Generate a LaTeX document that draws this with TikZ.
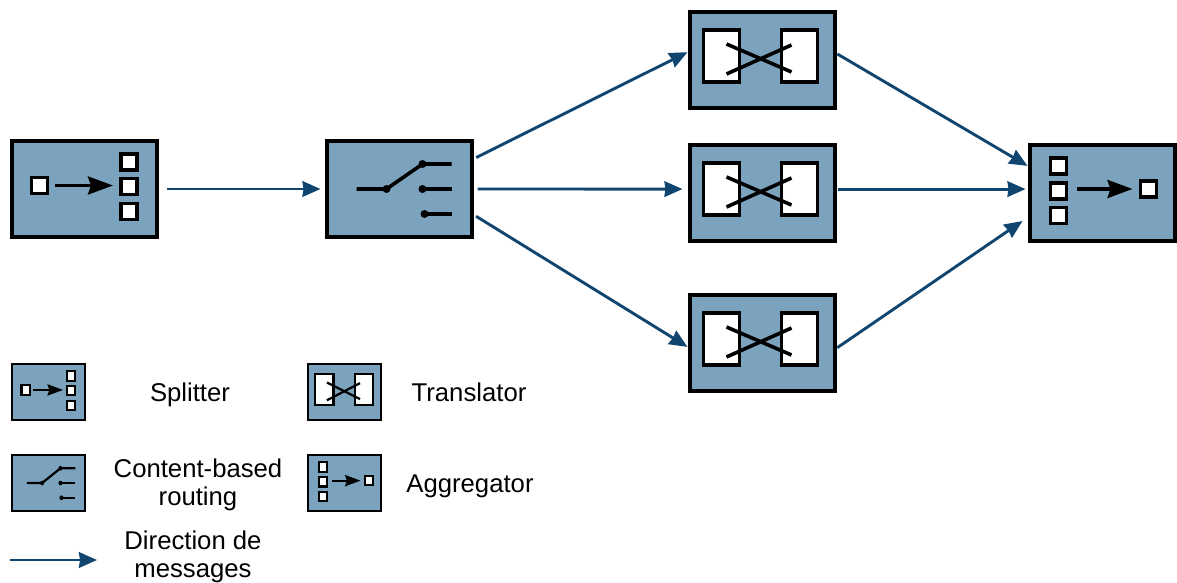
\documentclass[tikz,border=0pt]{standalone}
\usepackage{fontspec}
\setmainfont{Liberation Sans}
\usetikzlibrary{arrows.meta}
\definecolor{boxblue}{HTML}{7BA3BE}
\definecolor{flowblue}{HTML}{104570}
\newcommand{\gk}{1}
\tikzset{
  bigbox/.style={draw=black,fill=boxblue,line width=4pt,minimum width=145pt,minimum height=96pt,inner sep=0pt},
  smallbox/.style={draw=black,fill=boxblue,line width=2pt,minimum width=73pt,minimum height=56pt,inner sep=0pt},
  flow/.style={draw=flowblue,line width=2.9pt,-{Stealth[length=18pt,width=15.5pt,inset=1pt]}},
  gline/.style={draw=black,line width=\gk*3.6pt},
  garrow/.style={gline,-{Stealth[length=25pt,width=18pt,inset=3pt,scale=\gk]}},
  gsq/.style={draw=black,fill=white,line width=\gk*3.4pt},
  label/.style={font=\fontsize{25.7}{28.5}\selectfont,align=center,text=black,inner sep=0pt},
}
\newcommand{\smallsq}[2]{\draw[gsq] (#1-8,#2-8) rectangle (#1+8,#2+8);}
\newcommand{\splitglyph}{%
  \smallsq{29.5}{46.5}
  \smallsq{119}{23}\smallsq{119}{47.5}\smallsq{119}{72.5}
  \draw[garrow] (45,46.5) -- (103,46.5);
}
\newcommand{\aggglyph}{%
  \smallsq{31}{23}\smallsq{31}{48}\smallsq{31}{72.5}
  \smallsq{121}{46}
  \draw[garrow] (49,46) -- (105,46);
}
\newcommand{\routerglyph}{%
  \draw[gline] (32,50) -- (62,50) -- (98,25) -- (127,25);
  \draw[gline] (98,50) -- (127,50);
  \draw[gline] (100,75) -- (127,75);
  \fill (62,50) circle (4);
  \fill (98,25) circle (4);
  \fill (98,50) circle (4);
  \fill (100,75) circle (4);
}
\newcommand{\transglyph}{%
  \draw[gsq] (16,20) rectangle (52,72);
  \draw[gsq] (94,20) rectangle (130,72);
  \draw[gline] (39,34) -- (104,62);
  \draw[gline] (39,64) -- (104,35);
}
\begin{document}
\begin{tikzpicture}[x=1pt,y=-1pt]
\useasboundingbox (0,0) rectangle (1177,583);
% main boxes
\node[bigbox] (split) at (84.5,189) {};
\node[bigbox] (router) at (399,189) {};
\node[bigbox] (t1) at (762,60) {};
\node[bigbox] (t2) at (762,193) {};
\node[bigbox] (t3) at (762,343) {};
\node[bigbox] (agg) at (1102,193) {};
% legend boxes
\node[smallbox] (lsplit) at (48,391.5) {};
\node[smallbox] (ltrans) at (344.5,391.5) {};
\node[smallbox] (lrouter) at (48,482.5) {};
\node[smallbox] (lagg) at (344.5,482.5) {};
% glyphs
\begin{scope}[shift={(split.north west)}]\splitglyph\end{scope}
\begin{scope}[shift={(router.north west)}]\routerglyph\end{scope}
\begin{scope}[shift={(t1.north west)}]\transglyph\end{scope}
\begin{scope}[shift={(t2.north west)}]\transglyph\end{scope}
\begin{scope}[shift={(t3.north west)}]\transglyph\end{scope}
\begin{scope}[shift={(agg.north west)}]\aggglyph\end{scope}
\renewcommand{\gk}{0.62}
\begin{scope}[shift={(lsplit.north west)},xscale=.51,yscale=.59]\splitglyph\end{scope}
\begin{scope}[shift={(lrouter.north west)},xscale=.51,yscale=.59]\routerglyph\end{scope}
\begin{scope}[shift={(ltrans.north west)},xscale=.51,yscale=.59]\transglyph\end{scope}
\begin{scope}[shift={(lagg.north west)},xscale=.51,yscale=.59]\aggglyph\end{scope}
% connectors
\draw[flow,shorten <=8pt,shorten >=4pt] (split.east) -- (router.west);
\draw[flow,shorten <=3pt] (router.22) -- (t1.174);
\draw[flow,shorten <=4pt,shorten >=5pt] (router.0) -- (t2.177);
\draw[flow,shorten <=3pt] (router.-19) -- (t3.183);
\draw[flow,shorten <=1pt] (t1.5) -- (agg.160.5);
\draw[flow,shorten <=1pt,shorten >=2pt] (t2.3) -- (agg.177);
\coordinate (aggin) at ([xshift=-5pt,yshift=-28pt]agg.west);
\draw[flow,shorten <=1pt] (t3.-4) -- (aggin);
% legend
\coordinate (legA) at (10,560);
\coordinate (legB) at (97,560);
\draw[flow] (legA) -- (legB);
\node[label] (tsplit) at (190,394.5) {Splitter};
\node[label] (ttrans) at (469,392.5) {Translator};
\node[label] (trouter) at (198,485) {Content-based\\routing};
\node[label] (tagg) at (470,486) {Aggregator};
\node[label] (tdir) at (193,557) {Direction de\\messages};
\end{tikzpicture}
\end{document}
